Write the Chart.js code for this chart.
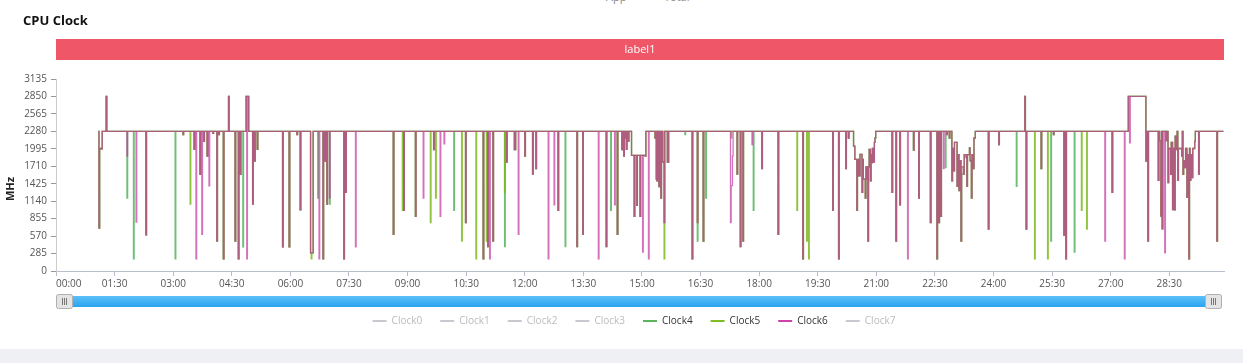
<!DOCTYPE html>
<html>
<head>
<meta charset="utf-8">
<title>CPU Clock</title>
<script src="https://cdn.jsdelivr.net/npm/chart.js@4.4.0/dist/chart.umd.min.js"></script>
<style>
	html, body { margin: 0; padding: 0; background: #fff; }
	body { width: 1243px; height: 363px; overflow: hidden; position: relative; font-family: "Open Sans", sans-serif; }
	#topLegend span { position: absolute; top: -11px; font-size: 11px; color: #888; white-space: nowrap; }
	#title { position: absolute; left: 23px; top: 12px; font-size: 13px; line-height: 17px; font-weight: bold; color: #111; }
	#wrap { position: absolute; left: 0; top: 0; width: 1243px; height: 349px; }
	#footer { position: absolute; left: 0; top: 349px; width: 1243px; height: 14px; background: #eff0f4; }
</style>
</head>
<body>
<div id="topLegend"><span style="left:606px">App</span><span style="left:664px">Total</span></div>
<div id="wrap"><canvas id="clockChart"></canvas></div>
<div id="title">CPU Clock</div>
<div id="footer"></div>
<script>
/*jshint esversion: 6 */

// time axis in seconds, shown as mm:ss
const xMax = 1794;
const xTickSeconds = [0, 90, 180, 270, 360, 450, 540, 630, 720, 810, 900, 990, 1080, 1170, 1260, 1350, 1440, 1530, 1620, 1710];
const xTickLabels = ['00:00', '01:30', '03:00', '04:30', '06:00', '07:30', '09:00', '10:30', '12:00', '13:30',
	'15:00', '16:30', '18:00', '19:30', '21:00', '22:30', '24:00', '25:30', '27:00', '28:30'];
const yTicks = [0, 285, 570, 855, 1140, 1425, 1710, 1995, 2280, 2565, 2850, 3135];

const seriesNames = ['Clock0', 'Clock1', 'Clock2', 'Clock3', 'Clock4', 'Clock5', 'Clock6', 'Clock7'];
const bandLabel = 'label1';
const axisName = 'MHz';

// [second, MHz] samples shared by clocks 4-6, value holds until the next sample
const sharedSamples = [
	[65, 2280], [66, 700], [67, 2000], [69, 1995], [71, 2280],
	[77, 2850], [78, 2280], [138, 590], [139, 2280], [195, 2226], [196, 2280],
	[212, 1985], [213, 2280], [221, 1580], [222, 2280], [227, 2118], [228, 2280],
	[232, 1876], [233, 2280], [241, 2247], [242, 2280], [247, 490], [248, 2280],
	[250, 2226], [251, 2280], [257, 200], [258, 2280], [265, 2850], [266, 2280],
	[275, 490], [276, 2280], [280, 200], [281, 2280], [283, 1580], [284, 2280],
	[292, 2850], [296, 2280], [302, 1094], [303, 2280], [305, 1795], [306, 2280],
	[309, 1985], [310, 2280], [348, 393], [349, 2280], [358, 393], [359, 2280],
	[370, 2226], [371, 2280], [375, 997], [376, 2280], [391, 297], [395, 2280],
	[410, 200], [411, 2280], [413, 1795], [414, 2280], [416, 1094], [417, 2280],
	[442, 200], [443, 2280], [445, 1283], [446, 2280],
	[518, 598], [519, 2280], [534, 990], [535, 2280], [552, 893], [553, 2280],
	[580, 1984], [581, 2280], [629, 791], [630, 2280], [656, 200], [657, 2280],
	[663, 399], [664, 2280], [671, 490], [672, 2280], [692, 1780], [693, 2280],
	[704, 1984], [706, 2280], [720, 1877], [721, 2280], [732, 1581], [733, 2280],
	[737, 1673], [738, 2280], [771, 990], [772, 2280], [800, 399], [801, 2280],
	[809, 598], [810, 2280], [845, 399], [846, 2280], [862, 598], [863, 2280],
	[869, 1984], [870, 2280], [872, 1877], [873, 2280], [875, 2172], [876, 1985], [877, 2280],
	[879, 2120], [880, 2280], [884, 1888], [888, 893], [889, 1888], [892, 1071], [893, 1888],
	[897, 893], [898, 1888], [905, 1877], [906, 2280],
	[920, 2172], [921, 2280], [922, 1500], [923, 1474], [924, 2280], [925, 1474], [926, 1380],
	[927, 2280], [929, 1189], [930, 2280], [932, 1780], [934, 791], [935, 2280], [939, 1780], [941, 2280],
	[977, 200], [978, 2280], [985, 791], [986, 2280], [994, 490], [995, 2280],
	[1046, 1581], [1047, 2280], [1051, 399], [1052, 2280], [1055, 490], [1056, 2280],
	[1084, 1673], [1085, 2280], [1109, 598], [1110, 2280], [1147, 200], [1148, 2280],
	[1193, 990], [1194, 2280], [1202, 200], [1203, 2280], [1213, 1673], [1214, 2280],
	[1217, 2172], [1218, 2280],
	[1225, 2038], [1227, 1823], [1230, 990], [1231, 1823], [1233, 1554], [1235, 1904], [1238, 1286],
	[1239, 1823], [1240, 1500], [1243, 1189], [1244, 1700], [1246, 1500], [1247, 490], [1248, 1700],
	[1249, 1984], [1251, 1474], [1252, 1900], [1253, 1770], [1254, 2000], [1256, 1780], [1257, 2100],
	[1258, 2172], [1259, 2280],
	[1284, 1286], [1285, 2280], [1290, 490], [1291, 2280], [1296, 1081], [1297, 2280],
	[1317, 1974], [1318, 2280], [1325, 1189], [1326, 2280], [1343, 791], [1344, 2280],
	[1353, 200], [1354, 2280], [1356, 791], [1357, 2280], [1359, 893], [1360, 2280],
	[1368, 2226], [1369, 2280], [1372, 2172], [1373, 2280], [1376, 1474], [1377, 2000], [1379, 1635],
	[1380, 2100], [1384, 1382], [1385, 1900], [1387, 1313], [1388, 1800], [1390, 490], [1391, 1700],
	[1394, 1581], [1395, 1900], [1398, 1850], [1399, 1382], [1400, 1900], [1403, 2011], [1404, 1800],
	[1406, 1189], [1407, 1900], [1409, 1673], [1410, 2172], [1412, 2280],
	[1432, 684], [1433, 2280], [1448, 2065], [1449, 2280],
	[1488, 2850], [1489, 2280], [1490, 684], [1491, 2280], [1513, 1673], [1514, 2280],
	[1532, 2226], [1533, 2280], [1548, 587], [1549, 2280], [1551, 200], [1552, 2280],
	[1622, 1283], [1623, 2280], [1647, 2850], [1674, 1795], [1675, 2280], [1677, 490], [1678, 2280],
	[1693, 1482], [1694, 2280], [1695, 2129], [1697, 895], [1698, 2280], [1699, 690], [1700, 2280],
	[1705, 2129], [1706, 2280], [1708, 1445], [1709, 2000], [1712, 1579], [1713, 2100], [1715, 1003],
	[1716, 2000], [1718, 997], [1719, 2200], [1721, 1984], [1722, 2280], [1723, 1482], [1724, 2000],
	[1729, 1876], [1730, 2280], [1731, 1579], [1732, 1800], [1734, 1687], [1735, 2000], [1737, 1202],
	[1738, 1900], [1740, 200], [1741, 2000], [1742, 1482], [1743, 1900], [1745, 1525], [1746, 2000],
	[1749, 2118], [1750, 2280], [1755, 1579], [1756, 2280],
	[1783, 490], [1784, 2280], [1793, 2280]
];

// samples where one clock leaves the others
const clock4Samples = [
	[109, 1190], [110, 2280], [119, 200], [120, 2280], [183, 200], [184, 2280],
	[287, 393], [288, 2280], [402, 1190], [403, 2280], [420, 1094], [421, 2280],
	[611, 990], [612, 2280], [689, 399], [690, 2280], [782, 399], [783, 2280],
	[852, 990], [853, 2280], [966, 2226], [967, 2280], [985, 490], [998, 1189], [999, 2280],
	[1071, 990], [1072, 2280], [1366, 1689], [1367, 2280], [1391, 1581],
	[1475, 1382], [1476, 2280], [1528, 490], [1529, 2280], [1564, 307], [1565, 2280]
];
const clock5Samples = [
	[206, 1094], [207, 2280], [392, 200], [393, 297], [532, 990], [533, 2280],
	[575, 791], [576, 2280], [583, 1189], [584, 2280], [623, 490], [624, 2280],
	[645, 200], [646, 2280], [661, 490], [662, 2280], [689, 1286], [690, 2280],
	[934, 200], [1037, 2172], [1038, 2280], [1138, 990], [1139, 2280],
	[1153, 490], [1154, 2280], [1156, 200], [1157, 2280], [1503, 200], [1504, 2280],
	[1523, 200], [1524, 2280], [1575, 990], [1576, 2280], [1583, 684], [1584, 2280]
];
const clock6Samples = [
	[109, 1876], [110, 2280], [123, 800], [124, 2280], [215, 200], [216, 2280],
	[224, 600], [225, 2280], [235, 1390], [236, 2280], [293, 200], [294, 2850],
	[404, 200], [405, 2280], [420, 1190], [421, 2280], [460, 393], [461, 2280],
	[564, 1189], [565, 2280], [590, 893], [591, 2280], [596, 2076], [597, 2280],
	[666, 200], [667, 2280], [710, 598], [711, 2280], [756, 200], [757, 2280],
	[765, 1081], [766, 2280], [833, 200], [834, 2280], [858, 1081], [859, 2280],
	[901, 307], [902, 1888], [910, 200], [911, 2280],
	[1036, 791], [1037, 1393], [1039, 1877], [1040, 2280], [1069, 2065], [1070, 2280],
	[1308, 200], [1309, 2280], [1363, 1673], [1364, 2280], [1611, 490], [1612, 2280],
	[1641, 200], [1642, 2280], [1649, 2091], [1650, 2850], [1703, 297], [1704, 2280]
];

const ownSamples = { Clock4: clock4Samples, Clock5: clock5Samples, Clock6: clock6Samples };
const lineColors = { Clock4: 'rgba(82, 180, 92, 0.85)', Clock5: 'rgba(124, 186, 30, 0.85)', Clock6: 'rgba(196, 58, 160, 0.72)' };
const legendColors = { Clock4: '#5ab55e', Clock5: '#80bc22', Clock6: '#cc44aa' };
const drawOrder = { Clock4: 2, Clock5: 1, Clock6: 0 };
const hiddenColor = '#c8c8d0';

function buildSeries(own) {
	const byTime = new Map();
	sharedSamples.forEach(([t, v]) => byTime.set(t, v));
	own.forEach(([t, v]) => byTime.set(t, v));
	return [...byTime.entries()].sort((a, b) => a[0] - b[0]).map(([x, y]) => ({x: x, y: y}));
}

const datasets = seriesNames.map((name) => {
	const own = ownSamples[name];
	return {
		label: name,
		data: own ? buildSeries(own) : [],
		hidden: !own,
		borderColor: own ? lineColors[name] : hiddenColor,
		backgroundColor: own ? lineColors[name] : hiddenColor,
		borderWidth: 1.3,
		pointRadius: 0,
		stepped: true,
		fill: false,
		order: own ? drawOrder[name] : 3
	};
});

// red band over the plot, the axis name and the zoom slider under the axis
const decorPlugin = {
	id: 'decor',
	beforeDraw(chart) {
		const {ctx, chartArea} = chart;
		ctx.save();
		ctx.fillStyle = '#ef5769';
		ctx.fillRect(chartArea.left, 39, chartArea.width, 21);
		ctx.fillStyle = '#fff';
		ctx.font = '11px "Open Sans", sans-serif';
		ctx.textAlign = 'center';
		ctx.textBaseline = 'middle';
		ctx.fillText(bandLabel, (chartArea.left + chartArea.right) / 2, 50);
		ctx.translate(11, 189);
		ctx.rotate(-Math.PI / 2);
		ctx.fillStyle = '#222';
		ctx.font = 'bold 11px "Open Sans", sans-serif';
		ctx.fillText(axisName, 0, 0);
		ctx.restore();
	},
	afterDraw(chart) {
		const {ctx, chartArea} = chart;
		const top = 296;
		const h = 11;
		ctx.save();
		const grad = ctx.createLinearGradient(0, top, 0, top + h);
		grad.addColorStop(0, '#5cc0f8');
		grad.addColorStop(1, '#2aa3ef');
		ctx.fillStyle = grad;
		ctx.fillRect(chartArea.left, top, chartArea.width - 2, h);
		[chartArea.left, chartArea.right - 19].forEach((x) => {
			ctx.beginPath();
			ctx.roundRect(x + 0.5, 294.5, 16, 14, 2);
			ctx.fillStyle = '#e4e4e4';
			ctx.fill();
			ctx.strokeStyle = '#b0b0b0';
			ctx.lineWidth = 1;
			ctx.stroke();
			ctx.strokeStyle = '#777';
			[6, 8, 10].forEach((dx) => {
				ctx.beginPath();
				ctx.moveTo(x + dx + 0.5, 298);
				ctx.lineTo(x + dx + 0.5, 305);
				ctx.stroke();
			});
		});
		ctx.restore();
	},
	afterLayout(chart) {
		// legend sits a little right of the canvas centre
		chart.legend.left += 22;
		chart.legend.right += 22;
	}
};

Chart.defaults.font.family = '"Open Sans", sans-serif';
Chart.defaults.font.size = 10;

new Chart(document.getElementById('clockChart'), {
	type: 'line',
	data: { datasets: datasets },
	plugins: [decorPlugin],
	options: {
		animation: false,
		responsive: true,
		maintainAspectRatio: false,
		layout: { padding: { top: 79, right: 19, bottom: 13, left: 0 } },
		scales: {
			x: {
				type: 'linear',
				min: 0,
				max: xMax,
				afterBuildTicks: (scale) => { scale.ticks = xTickSeconds.concat([xMax]).map((value) => ({value: value})); },
				afterFit: (scale) => { scale.height = 27; },
				ticks: {
					autoSkip: false,
					maxRotation: 0,
					align: 'inner',
					padding: 2,
					color: '#555',
					callback: (value, index) => xTickLabels[index] || ''
				},
				grid: {
					drawOnChartArea: false,
					tickLength: 5,
					tickColor: (c) => c.index < xTickSeconds.length ? '#b8bfcc' : 'rgba(0,0,0,0)'
				},
				border: { color: '#b8bfcc' }
			},
			y: {
				min: 0,
				max: 3135,
				afterBuildTicks: (scale) => { scale.ticks = yTicks.map((value) => ({value: value})); },
				afterFit: (scale) => { scale.width = 56; },
				ticks: { padding: 4, color: '#555', callback: (value) => String(value) },
				grid: { drawOnChartArea: false, tickLength: 5, tickColor: '#999' },
				border: { color: '#ccc' }
			}
		},
		plugins: {
			tooltip: { enabled: false },
			legend: {
				position: 'bottom',
				labels: {
					usePointStyle: true,
					pointStyleWidth: 14,
					padding: 18,
					font: { size: 10 },
					generateLabels: (chart) => chart.data.datasets.map((ds, i) => ({
						text: ds.label,
						datasetIndex: i,
						hidden: false,
						lineWidth: 2,
						pointStyle: 'line',
						strokeStyle: ds.hidden ? hiddenColor : legendColors[ds.label],
						fillStyle: ds.hidden ? hiddenColor : legendColors[ds.label],
						fontColor: ds.hidden ? '#bbb' : '#333'
					}))
				}
			}
		}
	}
});
</script>
</body>
</html>
